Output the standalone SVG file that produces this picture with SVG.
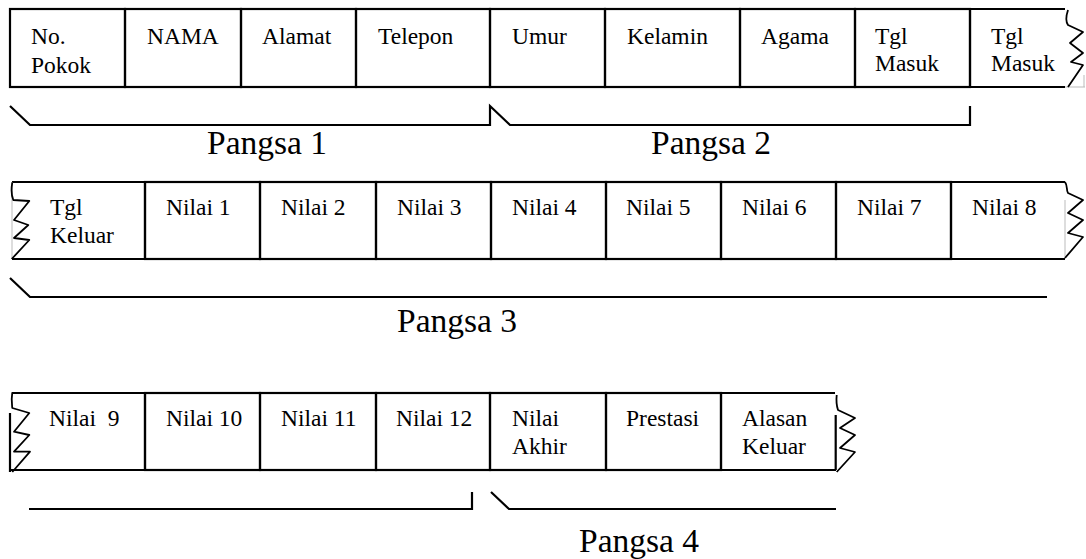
<svg xmlns="http://www.w3.org/2000/svg" width="1086" height="559" viewBox="0 0 1086 559">
<style>
.c{fill:none;stroke:#000;stroke-width:2.2}
.z{fill:none;stroke:#000;stroke-width:1.8;stroke-linejoin:round}
.g{fill:none;stroke:#bbb;stroke-width:1}
.t{font-size:23.5px;fill:#000}
.p{font-size:33.5px;fill:#000}
.b{fill:none;stroke:#000;stroke-width:2.2}
</style>
<rect width="1086" height="559" fill="#fff"/>
<g font-family="Liberation Serif, Tinos, DejaVu Serif, serif">
<!-- Row 1 -->
<g id="r1-nopokok"><rect class="c" x="10" y="9" width="115" height="78"/><text class="t" x="31" y="44">No.</text><text class="t" x="31" y="73">Pokok</text></g>
<g id="r1-nama"><rect class="c" x="125" y="9" width="116" height="78"/><text class="t" x="147" y="44">NAMA</text></g>
<g id="r1-alamat"><rect class="c" x="241" y="9" width="115" height="78"/><text class="t" x="262" y="44">Alamat</text></g>
<g id="r1-telepon"><rect class="c" x="356" y="9" width="134" height="78"/><text class="t" x="378" y="44">Telepon</text></g>
<g id="r1-umur"><rect class="c" x="490" y="9" width="115" height="78"/><text class="t" x="512" y="44">Umur</text></g>
<g id="r1-kelamin"><rect class="c" x="605" y="9" width="135" height="78"/><text class="t" x="627" y="44">Kelamin</text></g>
<g id="r1-agama"><rect class="c" x="740" y="9" width="115" height="78"/><text class="t" x="761" y="44">Agama</text></g>
<g id="r1-tglmasuk1"><rect class="c" x="855" y="9" width="115" height="78"/><text class="t" x="875" y="44">Tgl</text><text class="t" x="875" y="71">Masuk</text></g>
<g id="r1-tglmasuk2"><path class="c" d="M970,9 H1065 M970,87 H1065 M970,9 V87"/><path class="g" d="M1065,87 H1085 M1084,75 V87"/><path class="z" d="M1068,10 C1066,16 1066,22 1068,25 L1083,32 L1070,43 L1083,53 L1071,62 L1083,65 L1068,87"/><text class="t" x="991" y="44">Tgl</text><text class="t" x="991" y="71">Masuk</text></g>
<!-- Row 2 -->
<g id="r2-tglkeluar"><path class="c" d="M12,182 H145 M12,259 H145 M145,182 V259"/><path class="g" d="M12,182 V259"/><path class="z" d="M12.3,182.3 C11,190 12,197 13.3,200 L29.3,201 L14,220 L28.3,225 L14,238 L29.3,240 L11.7,259"/><text class="t" x="50" y="215">Tgl</text><text class="t" x="50" y="243">Keluar</text></g>
<g id="r2-nilai1"><rect class="c" x="145" y="182" width="115" height="77"/><text class="t" x="166" y="215">Nilai 1</text></g>
<g id="r2-nilai2"><rect class="c" x="260" y="182" width="116" height="77"/><text class="t" x="281" y="215">Nilai 2</text></g>
<g id="r2-nilai3"><rect class="c" x="376" y="182" width="115" height="77"/><text class="t" x="397" y="215">Nilai 3</text></g>
<g id="r2-nilai4"><rect class="c" x="491" y="182" width="115" height="77"/><text class="t" x="512" y="215">Nilai 4</text></g>
<g id="r2-nilai5"><rect class="c" x="606" y="182" width="115" height="77"/><text class="t" x="626" y="215">Nilai 5</text></g>
<g id="r2-nilai6"><rect class="c" x="721" y="182" width="115" height="77"/><text class="t" x="742" y="215">Nilai 6</text></g>
<g id="r2-nilai7"><rect class="c" x="836" y="182" width="115" height="77"/><text class="t" x="857" y="215">Nilai 7</text></g>
<g id="r2-nilai8"><path class="c" d="M951,182 H1065 M951,259 H1065 M951,182 V259"/><path class="g" d="M1065,200 V258"/><path class="z" d="M1065,182 C1068,186 1066,190 1068,193 L1083,200 L1068,213 L1083,220 L1068,233 L1083,237 L1065,258"/><text class="t" x="972" y="215">Nilai 8</text></g>
<!-- Row 3 -->
<g id="r3-nilai9"><path class="c" d="M12,393 H145 M10,470 H145 M145,393 V470 M10,413 V472"/><path class="z" d="M12.3,392.3 C11,400 12,405 12.3,408 L29.3,413 L14,431.7 L29.3,435 L14,451.7 L30,451.7 L12.3,472"/><text class="t" x="49" y="426" xml:space="preserve">Nilai  9</text></g>
<g id="r3-nilai10"><rect class="c" x="145" y="393" width="115" height="77"/><text class="t" x="166" y="426">Nilai 10</text></g>
<g id="r3-nilai11"><rect class="c" x="260" y="393" width="116" height="77"/><text class="t" x="281" y="426">Nilai 11</text></g>
<g id="r3-nilai12"><rect class="c" x="376" y="393" width="114" height="77"/><text class="t" x="396" y="426">Nilai 12</text></g>
<g id="r3-nilaiakhir"><rect class="c" x="490" y="393" width="116" height="77"/><text class="t" x="512" y="426">Nilai</text><text class="t" x="512" y="454">Akhir</text></g>
<g id="r3-prestasi"><rect class="c" x="606" y="393" width="115" height="77"/><text class="t" x="626" y="426">Prestasi</text></g>
<g id="r3-alasankeluar"><path class="c" d="M721,393 H835 M721,470 H836 M721,393 V470 M835.7,415 V470"/><path class="z" d="M836.7,395 C836,402 837,407 838,410 L855,418 L840,428 L855,435 L840,448 L855,452 L836.7,472"/><text class="t" x="742" y="426">Alasan</text><text class="t" x="742" y="454">Keluar</text></g>
<!-- Brackets -->
<g id="connectors">
<path class="b" d="M10,106 L30,125 H490 V106 L510,125 H970 V106"/>
<path class="b" d="M10,278 L30,297 H1047"/>
<path class="b" d="M29,509 H472 V492"/>
<path class="b" d="M491,492 L509,509 H836"/>
</g>
<g id="labels">
<text class="p" x="207" y="154">Pangsa 1</text>
<text class="p" x="651" y="154">Pangsa 2</text>
<text class="p" x="397" y="332">Pangsa 3</text>
<text class="p" x="579" y="552">Pangsa 4</text>
</g>
</g>
</svg>
